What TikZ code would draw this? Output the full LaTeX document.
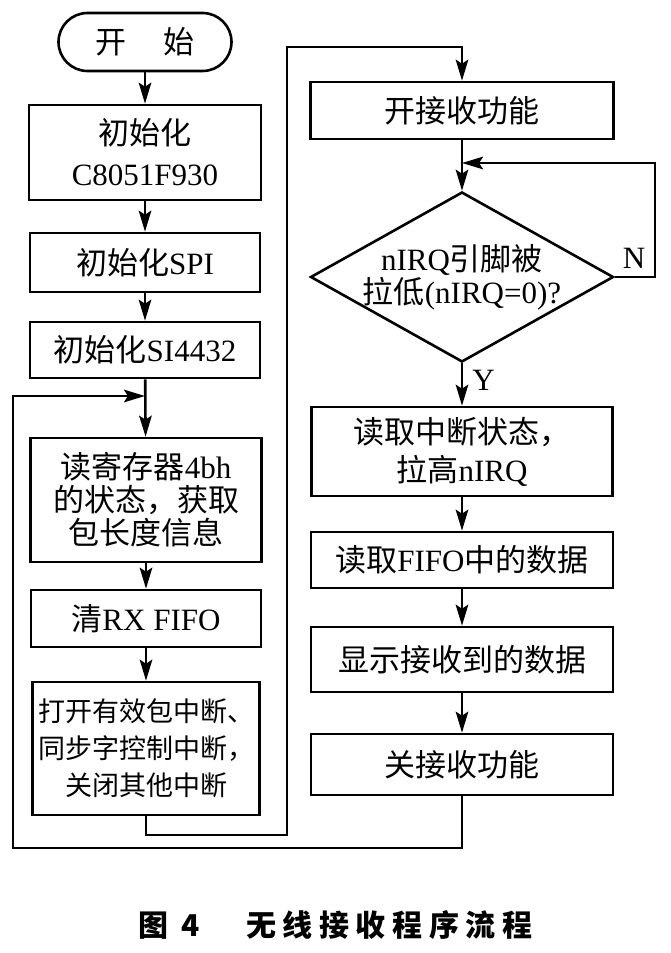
\documentclass[tikz,border=0pt]{standalone}
\usepackage{fontspec}
\setmainfont{Liberation Serif}
\newfontfamily\cjk{Noto Sans CJK SC}
\usetikzlibrary{arrows.meta,shapes.geometric}
\newcommand{\zh}[1]{{\cjk #1}}
\begin{document}
\begin{tikzpicture}[x=1pt,y=-1pt,
  line width=2.6pt,
  box/.style={draw, line width=2.6pt, inner sep=0pt, align=center, font=\fontsize{31}{38}\selectfont},
  arr/.style={-{Stealth[length=21pt,width=12.5pt,inset=4pt]}},
  lbl/.style={font=\fontsize{31}{36}\selectfont, inner sep=0pt}
]
\useasboundingbox[fill=white] (0,0) rectangle (670,953);

% left column
\node[box, rounded corners=29pt, minimum width=173pt, minimum height=58pt] (start) at (145,42) {\zh{开\hspace{37pt}始}};
\node[box, minimum width=232pt, minimum height=95pt, font=\fontsize{31}{41}\selectfont] (b1) at (145,152.5) {\zh{初始化}\\C8051F930};
\node[box, minimum width=230pt, minimum height=59pt] (b2) at (145,262.5) {\zh{初始化}SPI};
\node[box, minimum width=230pt, minimum height=56pt] (b3) at (145,350) {\zh{初始化}SI4432};
\node[box, minimum width=231pt, minimum height=124pt, font=\fontsize{31}{33}\selectfont] (b4) at (146,500) {\zh{读寄存器}4bh\\\zh{的状态，获取}\\\zh{包长度信息}};
\node[box, minimum width=230pt, minimum height=57pt] (b5) at (146,618.5) {\zh{清}RX FIFO};
\node[box, minimum width=227pt, minimum height=133pt, font=\fontsize{27}{37}\selectfont] (b6) at (146,748.5) {\zh{打开有效包中断、}\\\zh{同步字控制中断，}\\\zh{关闭其他中断}};

% right column
\node[box, minimum width=303pt, minimum height=57pt] (r1) at (462,110.5) {\zh{开接收功能}};
\node[draw, diamond, line width=2.6pt, inner sep=0pt, minimum width=303pt, minimum height=170pt] (d) at (462,277) {};
\node[align=center, inner sep=0pt, font=\fontsize{31}{33}\selectfont] (dt) at (d.center) {nIRQ\zh{引脚被}\\\zh{拉低}(nIRQ=0)?};
\node[box, minimum width=301pt, minimum height=89pt] (r2) at (462,451.5) {\zh{读取中断状态，}\\\zh{拉高}nIRQ};
\node[box, minimum width=302pt, minimum height=56pt] (r3) at (462,560) {\zh{读取}FIFO\zh{中的数据}};
\node[box, minimum width=302pt, minimum height=65pt] (r4) at (462,659.5) {\zh{显示接收到的数据}};
\node[box, minimum width=302pt, minimum height=61pt] (r5) at (462,764.5) {\zh{关接收功能}};

% labels
\node[lbl] (nlab) at (634,258) {N};

% junction coordinates
\coordinate (m1) at (145,396);
\coordinate (m2) at (462,163);
\coordinate (j1) at (287,835);
\coordinate (j2) at (287,47);
\coordinate (j3) at (655,163);
\coordinate (j4) at (13,848);
\coordinate (j5) at (13,396);

% connectors
\draw[arr] (start) -- (b1);
\draw[arr] (b1) -- (b2);
\draw[arr] (b2) -- (b3);
\draw[arr] (b3) -- (b4);
\draw[arr] (b4) -- (b5);
\draw[arr] (b5) -- (b6);
\draw[arr] (b6.south) |- (j1) -- (j2) -| (r1.north);
\draw[arr] (r1) -- (d);
\draw[arr] (d.east) -| (j3) -- (m2);
\draw[arr] (d.south) -- (r2.north) node[lbl, pos=0.4, right=9pt] (ylab) {Y};
\draw[arr] (r2) -- (r3);
\draw[arr] (r3) -- (r4);
\draw[arr] (r4) -- (r5);
\draw[arr] (r5.south) |- (j4) -- (j5) -- (m1);

% caption
\node[inner sep=0pt, anchor=west, font=\fontsize{30}{34}\selectfont] (cap) at (137,925) {\cjk\bfseries\addfontfeature{LetterSpace=22}图 4\hspace{46pt}无线接收程序流程};
\end{tikzpicture}
\end{document}
